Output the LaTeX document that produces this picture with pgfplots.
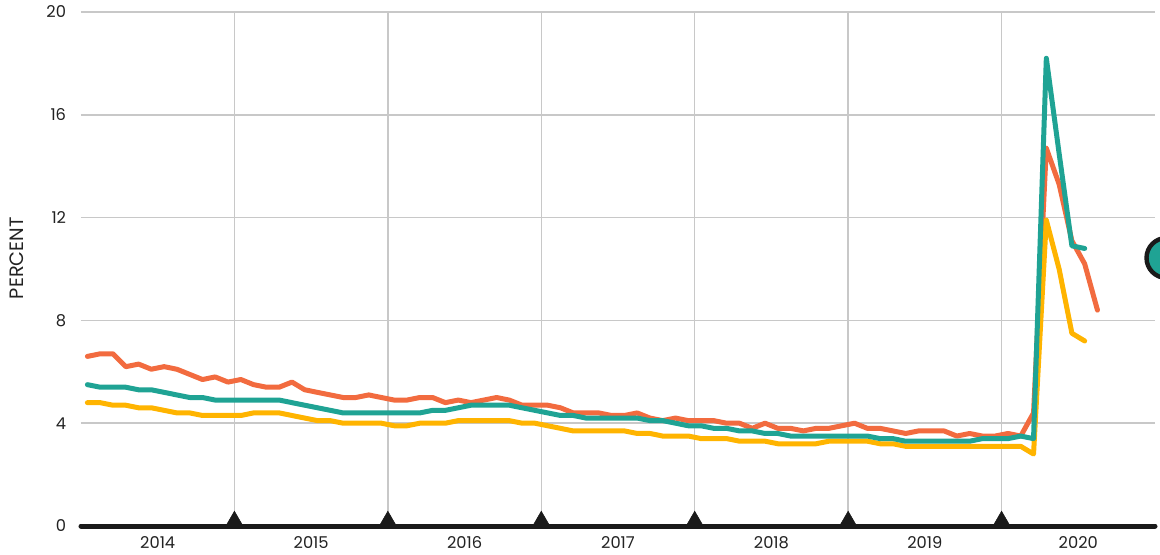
\documentclass[border=0pt]{standalone}
\usepackage{pgfplots}
\pgfplotsset{compat=1.18}
\usepackage{pgfplotstable}
\usepackage{fontspec}
\setmainfont{Poppins}
\definecolor{cOrange}{HTML}{F26B3F}
\definecolor{cTeal}{HTML}{1FA394}
\definecolor{cYellow}{HTML}{FFB400}
\definecolor{cGrid}{HTML}{C8C8C8}
\definecolor{cText}{HTML}{222222}
\definecolor{cBlack}{HTML}{1A1A1A}

% month index: 0 = Jan 2014
\pgfplotstableread{
m v
0 6.6
1 6.7
2 6.7
3 6.2
4 6.3
5 6.1
6 6.2
7 6.1
8 5.9
9 5.7
10 5.8
11 5.6
12 5.7
13 5.5
14 5.4
15 5.4
16 5.6
17 5.3
18 5.2
19 5.1
20 5.0
21 5.0
22 5.1
23 5.0
24 4.9
25 4.9
26 5.0
27 5.0
28 4.8
29 4.9
30 4.8
31 4.9
32 5.0
33 4.9
34 4.7
35 4.7
36 4.7
37 4.6
38 4.4
39 4.4
40 4.4
41 4.3
42 4.3
43 4.4
44 4.2
45 4.1
46 4.2
47 4.1
48 4.1
49 4.1
50 4.0
51 4.0
52 3.8
53 4.0
54 3.8
55 3.8
56 3.7
57 3.8
58 3.8
59 3.9
60 4.0
61 3.8
62 3.8
63 3.7
64 3.6
65 3.7
66 3.7
67 3.7
68 3.5
69 3.6
70 3.5
71 3.5
72 3.6
73 3.5
74 4.4
75 14.7
76 13.3
77 11.1
78 10.2
79 8.4
}\orangedata

\pgfplotstableread{
m v
0 5.5
1 5.4
2 5.4
3 5.4
4 5.3
5 5.3
6 5.2
7 5.1
8 5.0
9 5.0
10 4.9
11 4.9
12 4.9
13 4.9
14 4.9
15 4.9
16 4.8
17 4.7
18 4.6
19 4.5
20 4.4
21 4.4
22 4.4
23 4.4
24 4.4
25 4.4
26 4.4
27 4.5
28 4.5
29 4.6
30 4.7
31 4.7
32 4.7
33 4.7
34 4.6
35 4.5
36 4.4
37 4.3
38 4.3
39 4.2
40 4.2
41 4.2
42 4.2
43 4.2
44 4.1
45 4.1
46 4.0
47 3.9
48 3.9
49 3.8
50 3.8
51 3.7
52 3.7
53 3.6
54 3.6
55 3.5
56 3.5
57 3.5
58 3.5
59 3.5
60 3.5
61 3.5
62 3.4
63 3.4
64 3.3
65 3.3
66 3.3
67 3.3
68 3.3
69 3.3
70 3.4
71 3.4
72 3.4
73 3.5
74 3.4
75 18.2
76 14.5
77 10.9
78 10.8
}\tealdata

\pgfplotstableread{
m v
0 4.8
1 4.8
2 4.7
3 4.7
4 4.6
5 4.6
6 4.5
7 4.4
8 4.4
9 4.3
10 4.3
11 4.3
12 4.3
13 4.4
14 4.4
15 4.4
16 4.3
17 4.2
18 4.1
19 4.1
20 4.0
21 4.0
22 4.0
23 4.0
24 3.9
25 3.9
26 4.0
27 4.0
28 4.0
29 4.1
30 4.1
31 4.1
32 4.1
33 4.1
34 4.0
35 4.0
36 3.9
37 3.8
38 3.7
39 3.7
40 3.7
41 3.7
42 3.7
43 3.6
44 3.6
45 3.5
46 3.5
47 3.5
48 3.4
49 3.4
50 3.4
51 3.3
52 3.3
53 3.3
54 3.2
55 3.2
56 3.2
57 3.2
58 3.3
59 3.3
60 3.3
61 3.3
62 3.2
63 3.2
64 3.1
65 3.1
66 3.1
67 3.1
68 3.1
69 3.1
70 3.1
71 3.1
72 3.1
73 3.1
74 2.8
75 11.9
76 10.0
77 7.5
78 7.2
}\yellowdata

\begin{document}
\begin{tikzpicture}
\path[use as bounding box] (-60.75pt,-21pt) rectangle (809.25pt,394.5pt);
\begin{axis}[
  at={(0,0)}, anchor=south west,
  scale only axis,
  width=805.5pt, height=385.5pt,
  xmin=-0.5, xmax=83.5,
  ymin=0, ymax=20,
  clip=false,
  axis line style={draw=none},
  tick style={draw=none},
  ytick={0,4,8,12,16,20},
  xtick={5.5,17.5,29.5,41.5,53.5,65.5,77.5},
  xticklabels={2014,2015,2016,2017,2018,2019,2020},
  minor xtick={11.5,23.5,35.5,47.5,59.5,71.5},
  ymajorgrids=true,
  xminorgrids=true,
  major grid style={cGrid, line width=1.1pt},
  minor grid style={cGrid, line width=1.1pt},
  /pgf/number format/assume math mode=true,
  tick label style={font=\fontsize{12.2}{14}\selectfont, text=cText},
  yticklabel style={anchor=east, inner sep=0pt, xshift=-11pt},
  xticklabel style={anchor=base, inner sep=0pt, yshift=-16.5pt},
  ylabel={PERCENT},
  ylabel style={at={(rel axis cs:0,0.521)}, anchor=center, yshift=48pt,
    font=\fontsize{14.5}{16}\selectfont, text=cText},
]
\addplot[cBlack, line width=3.75pt, line cap=round] coordinates {(-0.5,0) (83.5,0)};
\addplot[only marks, mark=triangle*, mark size=7.4pt, cBlack,
  mark options={fill=cBlack, draw=none, yshift=3.7pt}]
  coordinates {(11.5,0) (23.5,0) (35.5,0) (47.5,0) (59.5,0) (71.5,0)};
\addplot[cOrange, line width=3.75pt, line join=round, line cap=round] table[x=m, y=v] {\orangedata};
\addplot[cYellow, line width=3.75pt, line join=round, line cap=round] table[x=m, y=v] {\yellowdata};
\addplot[cTeal, line width=3.75pt, line join=round, line cap=round] table[x=m, y=v] {\tealdata};
\addplot[only marks, mark=*, mark size=15pt,
  mark options={fill=cTeal, draw=cBlack, line width=3.3pt}]
  coordinates {(84.4,10.43)};
\end{axis}
\end{tikzpicture}
\end{document}
